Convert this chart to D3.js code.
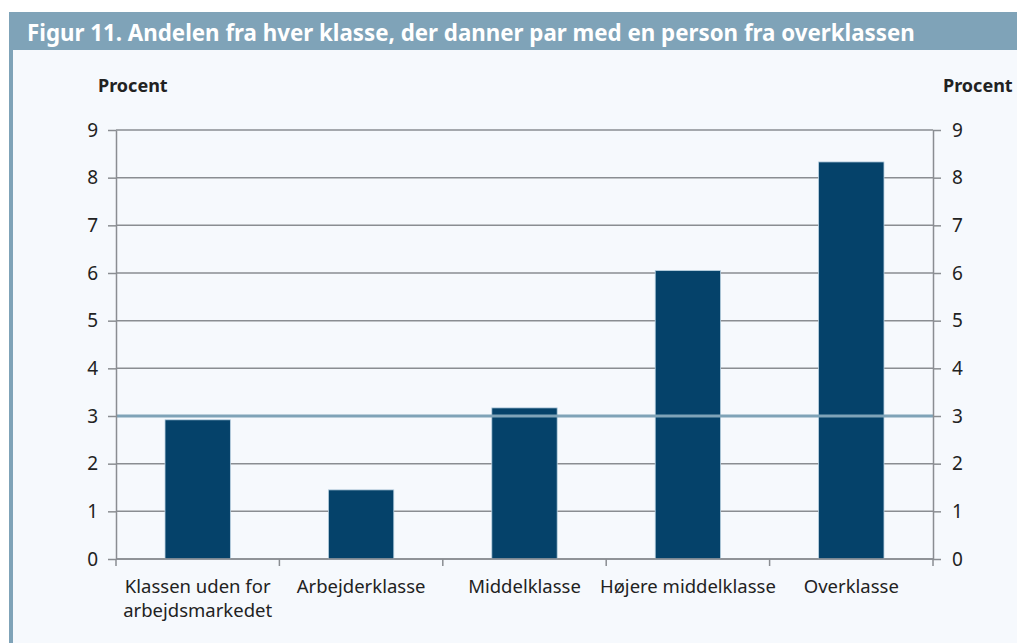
<!DOCTYPE html>
<html>
<head>
<meta charset="utf-8">
<script src="https://cdn.jsdelivr.net/npm/d3@7"></script>
<style>
  body { margin: 0; background: #fff; }
  svg { display: block; font-family: "Noto Sans", sans-serif; }
</style>
</head>
<body>
<div id="chart"></div>
<script>
const categories = [["Klassen uden for", "arbejdsmarkedet"], ["Arbejderklasse"], ["Middelklasse"], ["Højere middelklasse"], ["Overklasse"]]
const values = [2.92, 1.45, 3.17, 6.05, 8.33]
const yTicks = [0, 1, 2, 3, 4, 5, 6, 7, 8, 9]
const referenceValue = 3
const title = "Figur 11. Andelen fra hver klasse, der danner par med en person fra overklassen"
const axisTitle = "Procent"

const W = 1017, H = 643
const frame = "#7fa3b8"
const margin = { left: 116, right: W - 933, top: 130, bottom: H - 559 }

const svg = d3.select("#chart").append("svg")
    .attr("width", W)
    .attr("height", H)

// panel + title bar
svg.append("rect").attr("x", 9).attr("y", 12).attr("width", W - 9).attr("height", H - 12).attr("fill", "#f6f9fd")
svg.append("rect").attr("x", 9).attr("y", 12).attr("width", W - 9).attr("height", 38).attr("fill", frame)
svg.append("rect").attr("x", 9).attr("y", 12).attr("width", 4).attr("height", H - 12).attr("fill", frame)
svg.append("text")
    .attr("x", 27).attr("y", 41)
    .attr("fill", "#fff")
    .attr("font-size", 22.3).attr("font-weight", "bold")
    .text(title)

const x = d3.scaleBand()
    .domain(d3.range(categories.length))
    .range([margin.left, W - margin.right])
    .paddingInner(0.6).paddingOuter(0.3)

const y = d3.scaleLinear()
    .domain([0, 9])
    .range([H - margin.bottom, margin.top])

// gridlines
svg.append("g")
    .selectAll("line")
    .data(yTicks)
    .join("line")
    .attr("x1", margin.left).attr("x2", W - margin.right)
    .attr("y1", d => y(d)).attr("y2", d => y(d))
    .attr("stroke", "#8a8d92").attr("stroke-width", 1.5)

// bars
svg.append("g")
    .selectAll("rect")
    .data(values)
    .join("rect")
    .attr("x", (d, i) => x(i))
    .attr("width", x.bandwidth())
    .attr("y", d => y(d))
    .attr("height", d => y(0) - y(d))
    .attr("fill", "#05426a")
    .attr("stroke", "#b9d0e0").attr("stroke-width", 0.8)

// reference line
svg.append("line")
    .attr("x1", margin.left).attr("x2", W - margin.right)
    .attr("y1", y(referenceValue)).attr("y2", y(referenceValue))
    .attr("stroke", frame).attr("stroke-width", 3)

const styleAxis = g => {
    g.selectAll(".domain").attr("stroke", "#8a8d92").attr("stroke-width", 1.5)
    g.selectAll(".tick line").attr("stroke", "#8a8d92").attr("stroke-width", 1.5)
    g.selectAll("text").attr("fill", "#222").attr("font-size", 19).attr("font-family", "Noto Sans")
}

svg.append("g")
    .attr("transform", `translate(${margin.left},0)`)
    .call(d3.axisLeft(y).tickValues(yTicks).tickSize(8).tickSizeOuter(0).tickPadding(10))
    .call(styleAxis)

svg.append("g")
    .attr("transform", `translate(${W - margin.right},0)`)
    .call(d3.axisRight(y).tickValues(yTicks).tickSize(8).tickSizeOuter(0).tickPadding(11))
    .call(styleAxis)

// x axis: ticks at category boundaries
const boundaries = d3.range(categories.length + 1).map(i => margin.left + i * (W - margin.left - margin.right) / categories.length)
const xg = svg.append("g")
xg.append("line")
    .attr("x1", margin.left).attr("x2", W - margin.right)
    .attr("y1", y(0)).attr("y2", y(0))
    .attr("stroke", "#8a8d92").attr("stroke-width", 1.5)
xg.selectAll(".bt")
    .data(boundaries)
    .join("line")
    .attr("class", "bt")
    .attr("x1", d => d).attr("x2", d => d)
    .attr("y1", y(0)).attr("y2", y(0) + 7)
    .attr("stroke", "#8a8d92").attr("stroke-width", 1.5)

xg.selectAll(".cat")
    .data(categories)
    .join("text")
    .attr("class", "cat")
    .attr("x", (d, i) => x(i) + x.bandwidth() / 2)
    .attr("y", y(0) + 34)
    .attr("text-anchor", "middle")
    .attr("fill", "#222").attr("font-size", 18.5)
    .selectAll("tspan")
    .data(d => d)
    .join("tspan")
    .attr("x", function () { return this.parentNode.getAttribute("x") })
    .attr("dy", (d, i) => i === 0 ? 0 : 24)
    .text(d => d)

// axis titles
svg.append("text").attr("x", 98).attr("y", 92)
    .attr("font-size", 18).attr("font-weight", "bold").attr("fill", "#222")
    .text(axisTitle)
svg.append("text").attr("x", 943).attr("y", 92)
    .attr("font-size", 18).attr("font-weight", "bold").attr("fill", "#222")
    .text(axisTitle)
</script>
</body>
</html>
